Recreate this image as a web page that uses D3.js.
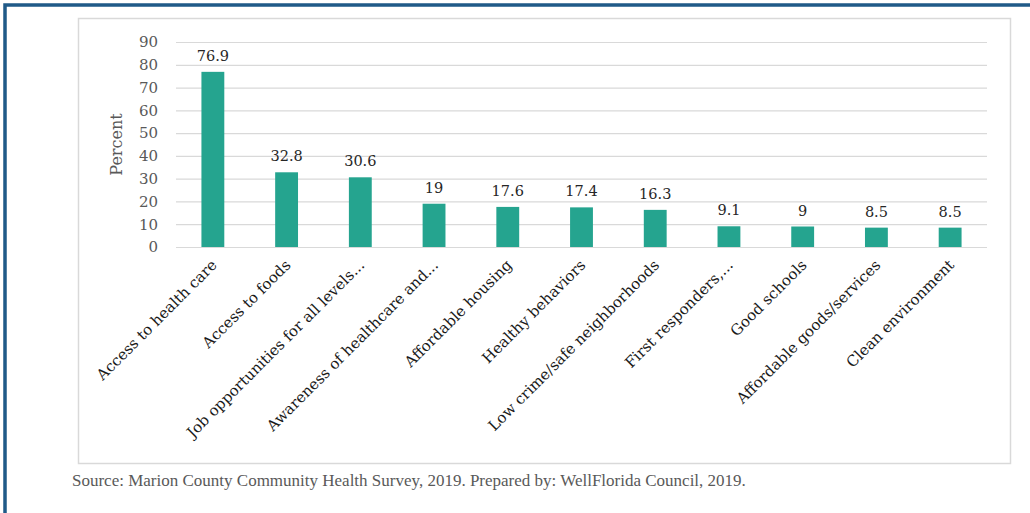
<!DOCTYPE html>
<html lang="en">
<head>
    <meta charset="UTF-8">
    <style>
        body { margin: 0; background: #fff; }
        svg { display: block; }
    </style>
    <script src="https://d3js.org/d3.v7.min.js"></script>
</head>
<body>
    <svg id="chart" width="1030" height="513" xmlns="http://www.w3.org/2000/svg"></svg>

    <script>
        // chart data
        const categories = [
            "Access to health care",
            "Access to foods",
            "Job opportunities for all levels...",
            "Awareness of healthcare and...",
            "Affordable housing",
            "Healthy behaviors",
            "Low crime/safe neighborhoods",
            "First responders,...",
            "Good schools",
            "Affordable goods/services",
            "Clean environment"
        ];
        const percents = [76.9, 32.8, 30.6, 19, 17.6, 17.4, 16.3, 9.1, 9, 8.5, 8.5];
        const yTicks = [0, 10, 20, 30, 40, 50, 60, 70, 80, 90];
        const yTitle = "Percent";
        const sourceNote = "Source: Marion County Community Health Survey, 2019. Prepared by: WellFlorida Council, 2019.";

        const svg = d3.select("#chart");
        const serif = "'DejaVu Serif', serif";
        const narrowSerif = "'Liberation Serif', serif";

        // outer blue frame (top + left edge visible)
        svg.append("path")
            .attr("d", "M5,513 L5,5 L1030,5")
            .attr("fill", "none")
            .attr("stroke", "#1f5a88")
            .attr("stroke-width", 3.5);

        // inner chart box
        svg.append("rect")
            .attr("x", 78.5).attr("y", 18.5)
            .attr("width", 932).attr("height", 445)
            .attr("fill", "#fff")
            .attr("stroke", "#d9d9d9")
            .attr("stroke-width", 1.5);

        const plot = { left: 176, right: 987, top: 42, bottom: 247 };

        const x = d3.scaleBand()
            .domain(categories)
            .range([plot.left, plot.right])
            .paddingInner(0.69)
            .paddingOuter(0.345);

        const y = d3.scaleLinear()
            .domain([0, 90])
            .range([plot.bottom, plot.top]);

        // gridlines + tick labels
        const yAxis = svg.append("g")
            .attr("transform", `translate(${plot.left},0)`)
            .call(d3.axisLeft(y).tickValues(yTicks).tickSize(-(plot.right - plot.left)).tickPadding(18));
        yAxis.select(".domain").remove();
        yAxis.selectAll(".tick line")
            .attr("stroke", "#d9d9d9")
            .attr("stroke-width", 1.2);
        yAxis.selectAll(".tick text")
            .attr("fill", "#595959")
            .attr("font-family", serif)
            .attr("font-size", "15px");

        // y title
        svg.append("text")
            .attr("transform", `translate(122,${(plot.top + plot.bottom) / 2}) rotate(-90)`)
            .attr("text-anchor", "middle")
            .attr("fill", "#595959")
            .attr("font-family", serif)
            .attr("font-size", "16px")
            .text(yTitle);

        // bars
        svg.append("g").selectAll("rect")
            .data(percents)
            .join("rect")
            .attr("x", (d, i) => x(categories[i]))
            .attr("y", d => y(d))
            .attr("width", x.bandwidth())
            .attr("height", d => y(0) - y(d))
            .attr("fill", "#25a48f");

        // value labels
        svg.append("g").selectAll("text")
            .data(percents)
            .join("text")
            .attr("x", (d, i) => x(categories[i]) + x.bandwidth() / 2)
            .attr("y", d => y(d) - 11)
            .attr("text-anchor", "middle")
            .attr("fill", "#262626")
            .attr("font-family", serif)
            .attr("font-size", "14.5px")
            .text(d => d);

        // rotated category labels
        svg.append("g").selectAll("text")
            .data(categories)
            .join("text")
            .attr("transform", d => `translate(${x(d) + x.bandwidth() / 2 + 5},${plot.bottom + 19}) rotate(-45)`)
            .attr("text-anchor", "end")
            .attr("fill", "#1a1a1a")
            .attr("font-family", serif)
            .attr("font-size", "15px")
            .text(d => d);

        // source note
        svg.append("text")
            .attr("x", 72)
            .attr("y", 486)
            .attr("fill", "#595959")
            .attr("font-family", narrowSerif)
            .attr("font-size", "17px")
            .text(sourceNote);
    </script>
</body>
</html>
